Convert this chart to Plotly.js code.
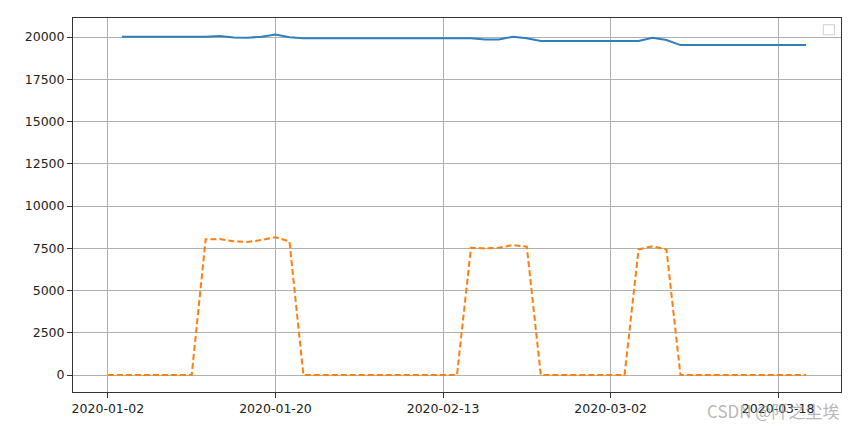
<!DOCTYPE html>
<html>
<head>
<meta charset="utf-8">
<script src="https://cdn.plot.ly/plotly-3.0.1.min.js"></script>
<style>html,body{margin:0;padding:0;background:#fff;}#chart{width:856px;height:429px;}</style>
</head>
<body>
<div id="chart"></div>
<script>
const dates = [
  "2020-01-02","2020-01-03","2020-01-06","2020-01-07","2020-01-08","2020-01-09","2020-01-10",
  "2020-01-13","2020-01-14","2020-01-15","2020-01-16","2020-01-17","2020-01-20","2020-01-21",
  "2020-01-22","2020-01-23",
  "2020-02-03","2020-02-04","2020-02-05","2020-02-06","2020-02-07","2020-02-10","2020-02-11",
  "2020-02-12","2020-02-13","2020-02-14","2020-02-17","2020-02-18","2020-02-19","2020-02-20",
  "2020-02-21","2020-02-24","2020-02-25","2020-02-26","2020-02-27","2020-02-28",
  "2020-03-02","2020-03-03","2020-03-04","2020-03-05","2020-03-06","2020-03-09","2020-03-10",
  "2020-03-11","2020-03-12","2020-03-13","2020-03-16","2020-03-17","2020-03-18","2020-03-19",
  "2020-03-20"
];
const seriesA = [
  null,20010,20010,20010,20010,20010,20010,20010,20060,19970,19950,20020,20150,19980,
  19930,19930,19930,19930,19930,19930,19930,19930,19930,19930,19930,19930,19930,
  19850,19850,20020,19930,19760,19760,19760,19760,19760,19760,19760,19760,19960,19820,
  19520,19520,19520,19520,19520,19520,19520,19520,19520,19520
];
const seriesB = [
  0,0,0,0,0,0,0,8030,8040,7910,7870,7990,8150,7910,
  0,0,0,0,0,0,0,0,0,0,0,0,7530,7490,7530,7690,7590,
  0,0,0,0,0,0,0,7430,7620,7430,
  0,0,0,0,0,0,0,0,0,0
];
const xTickLabels = ["2020-01-02","2020-01-20","2020-02-13","2020-03-02","2020-03-18"];
const yTicks = [0,2500,5000,7500,10000,12500,15000,17500,20000];

const traces = [
  {x: dates, y: seriesA, type: "scatter", mode: "lines", showlegend: false,
   line: {color: "#2e7fbf", width: 2}, connectgaps: false},
  {x: dates, y: seriesB, type: "scatter", mode: "lines", showlegend: false,
   line: {color: "#ff7f0e", width: 2, dash: "6px,3px"}}
];

const axisCommon = {
  showline: true, mirror: true, linecolor: "#333", linewidth: 1,
  ticks: "outside", ticklen: 5, tickcolor: "#333", tickwidth: 1,
  showgrid: true, gridcolor: "#b0b0b0", gridwidth: 1, zeroline: false,
  tickfont: {family: "DejaVu Sans", size: 12.5, color: "#222"}
};

const layout = {
  width: 856, height: 429,
  margin: {l: 73, r: 15, t: 18, b: 37},
  paper_bgcolor: "#fff", plot_bgcolor: "#fff",
  showlegend: false,
  xaxis: Object.assign({}, axisCommon, {
    type: "category", range: [-2.5, 52.5],
    tickmode: "array", tickvals: xTickLabels, ticktext: xTickLabels
  }),
  yaxis: Object.assign({}, axisCommon, {
    range: [-1006, 21124], tickmode: "array", tickvals: yTicks,
    ticktext: yTicks.map(String)
  }),
  shapes: [
    {type: "rect", xref: "paper", yref: "paper",
     x0: 0.977, x1: 0.9915, y0: 0.955, y1: 0.982,
     line: {color: "#d0d0d0", width: 1}, fillcolor: "rgba(255,255,255,0.8)"}
  ],
  annotations: [
    {text: "CSDN @阡之尘埃", xref: "paper", yref: "paper",
     x: 1.0, y: -0.05, xanchor: "right", yanchor: "middle", showarrow: false,
     font: {family: "Noto Sans CJK SC", size: 17, color: "rgba(150,150,150,0.7)"}}
  ]
};

Plotly.newPlot("chart", traces, layout, {displayModeBar: false, staticPlot: true});
</script>
</body>
</html>
